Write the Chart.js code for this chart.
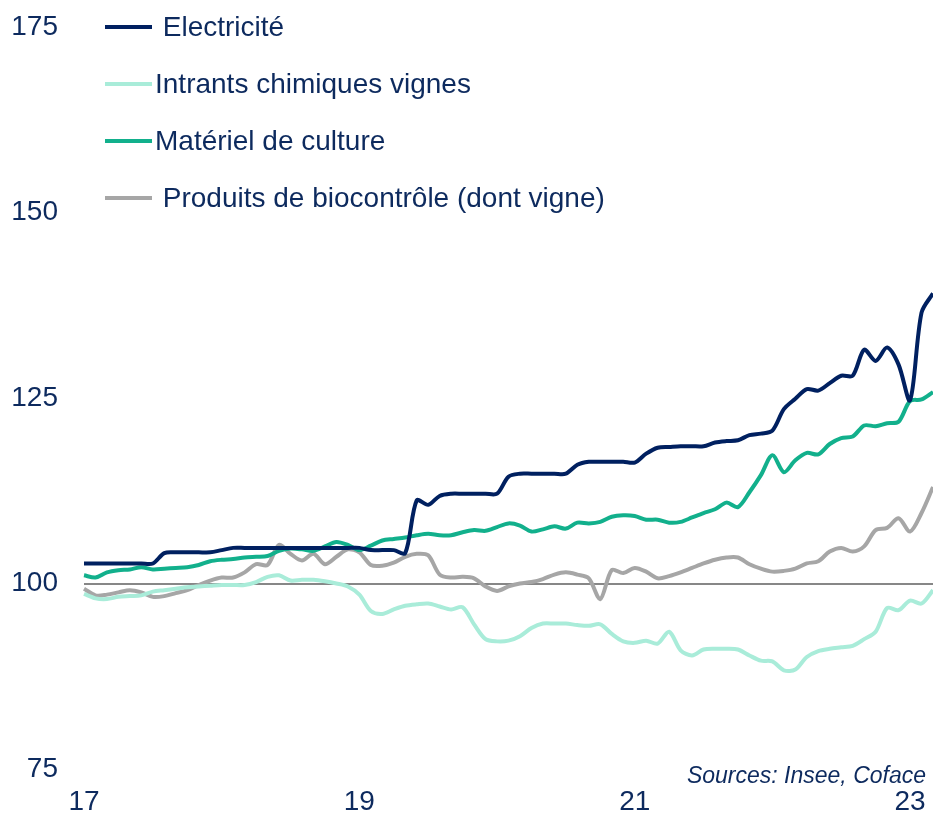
<!DOCTYPE html>
<html>
<head>
<meta charset="utf-8">
<script src="https://cdn.jsdelivr.net/npm/chart.js@4"></script>
<style>
  html, body { margin: 0; padding: 0; background: #fff; }
</style>
</head>
<body>
<canvas id="myChart" width="933" height="819"></canvas>
<script>
// mois de janv. 2017 a mars 2023
const years = ['2017', '2018', '2019', '2020', '2021', '2022', '2023'];
const months = [];
years.forEach(y => {
    for (let m = 1; m <= 12; m++) {
        if (y === '2023' && m > 3) break;
        months.push(y + '-' + (m < 10 ? '0' + m : m));
    }
});
// annees affichees sur l'axe
const tickYears = ['2017', '2019', '2021', '2023'];
const yTicks = [75, 100, 125, 150, 175];

// libelles (les espaces en tete viennent du graphique d'origine)
const labels = [' Electricité', 'Intrants chimiques vignes', 'Matériel de culture', ' Produits de biocontrôle (dont vigne)'];

const electricite = [
    102.7, 102.7, 102.7, 102.7, 102.7, 102.7, 102.7, 104.1, 104.2, 104.2, 104.2, 104.2,
    104.5, 104.8, 104.8, 104.8, 104.8, 104.8, 104.8, 104.8, 104.8, 104.8, 104.8, 104.8,
    104.8, 104.5, 104.5, 104.5, 104.1, 111.2, 110.6, 111.8, 112.1, 112.1, 112.1, 112.1,
    112.1, 114.4, 114.8, 114.8, 114.8, 114.8, 114.8, 116.0, 116.4, 116.4, 116.4, 116.4,
    116.3, 117.5, 118.3, 118.4, 118.5, 118.5, 118.5, 119.0, 119.2, 119.3, 120.0, 120.2,
    120.6, 123.5, 124.9, 126.2, 126.0, 127.0, 128.0, 128.0, 131.5, 130.0, 131.8, 129.5,
    124.7, 136.5, 139.1
];
const intrants = [
    98.6, 98.0, 97.9, 98.2, 98.3, 98.4, 98.9, 99.1, 99.3, 99.5, 99.6, 99.7,
    99.8, 99.8, 99.8, 100.2, 100.9, 101.1, 100.4, 100.5, 100.5, 100.3, 100.0, 99.6,
    98.5, 96.3, 95.9, 96.5, 97.0, 97.2, 97.3, 96.9, 96.5, 96.8, 94.5, 92.5,
    92.2, 92.3, 92.9, 94.0, 94.6, 94.6, 94.6, 94.4, 94.3, 94.5, 93.2, 92.2,
    92.0, 92.3, 91.9, 93.5, 91.0, 90.3, 91.1, 91.2, 91.2, 91.1, 90.3, 89.6,
    89.5, 88.3, 88.4, 90.1, 90.9, 91.2, 91.4, 91.6, 92.5, 93.5, 96.7, 96.4,
    97.7, 97.3, 99.1
];
const materiel = [
    101.1, 100.8, 101.5, 101.8, 101.9, 102.2, 101.9, 102.0, 102.1, 102.2, 102.5, 103.0,
    103.2, 103.3, 103.5, 103.6, 103.7, 104.4, 104.7, 104.6, 104.4, 105.0, 105.6, 105.2,
    104.5, 105.1, 105.8, 106.0, 106.2, 106.5, 106.7, 106.5, 106.5, 106.9, 107.2, 107.1,
    107.6, 108.1, 107.8, 107.0, 107.3, 107.7, 107.4, 108.2, 108.1, 108.3, 109.0, 109.2,
    109.1, 108.6, 108.6, 108.2, 108.3, 108.9, 109.5, 110.0, 110.9, 110.3, 112.3, 114.6,
    117.3, 115.0, 116.6, 117.6, 117.4, 118.8, 119.6, 119.8, 121.3, 121.2, 121.6, 121.8,
    124.6, 124.8, 125.8
];
const biocontrole = [
    99.3, 98.4, 98.5, 98.8, 99.1, 98.8, 98.2, 98.3, 98.7, 99.1, 99.8, 100.4,
    100.8, 100.8, 101.5, 102.6, 102.5, 105.2, 104.0, 103.1, 104.0, 102.6, 103.6, 104.6,
    104.2, 102.5, 102.4, 102.8, 103.6, 104.0, 103.8, 101.2, 100.8, 100.9, 100.7, 99.6,
    99.0, 99.6, 100.0, 100.2, 100.6, 101.2, 101.5, 101.2, 100.7, 97.9, 101.8, 101.4,
    102.1, 101.6, 100.7, 101.0, 101.5, 102.1, 102.7, 103.2, 103.5, 103.5, 102.6, 102.0,
    101.6, 101.7, 102.0, 102.7, 103.0, 104.3, 104.8, 104.3, 105.0, 107.2, 107.5, 108.8,
    107.0, 109.5, 113.0
];

const colors = ['#002060', '#a9ecd9', '#12b08c', '#a6a6a6'];
const textColor = '#0d2a5e';
const fontFamily = '"Liberation Sans", Arial, sans-serif';

// legende + source dessinees dans la zone du graphique
const overlayPlugin = {
    id: 'overlay',
    afterDraw(chart) {
        const ctx = chart.ctx;
        ctx.save();
        ctx.font = '28px ' + fontFamily;
        ctx.textBaseline = 'middle';
        chart.data.datasets.forEach((ds, i) => {
            const y = 27 + i * 57;
            ctx.strokeStyle = ds.borderColor;
            ctx.lineWidth = 4;
            ctx.beginPath();
            ctx.moveTo(105, y);
            ctx.lineTo(152, y);
            ctx.stroke();
            ctx.fillStyle = textColor;
            ctx.fillText(ds.label, 155, y + 1);
        });
        ctx.font = 'italic 23px ' + fontFamily;
        ctx.textAlign = 'right';
        ctx.fillText('Sources: Insee, Coface', 926, 777);
        ctx.restore();
    }
};

const mkDataset = (label, data, color) => ({
    label: label,
    data: data,
    borderColor: color,
    backgroundColor: color,
    borderWidth: 4,
    pointRadius: 0,
    tension: 0.3,
    fill: false
});

const myChart = new Chart(document.getElementById('myChart'), {
    type: 'line',
    data: {
        labels: months,
        datasets: [
            mkDataset(labels[0], electricite, colors[0]),
            mkDataset(labels[1], intrants, colors[1]),
            mkDataset(labels[2], materiel, colors[2]),
            mkDataset(labels[3], biocontrole, colors[3])
        ]
    },
    options: {
        responsive: false,
        animation: false,
        devicePixelRatio: 1,
        layout: { padding: { top: 27, right: 0, left: 0, bottom: 0 } },
        plugins: {
            legend: { display: false },
            tooltip: { enabled: false }
        },
        scales: {
            x: {
                offset: false,
                afterFit: (scale) => {
                    scale.height = 50;
                    scale.paddingLeft = 0;
                    scale.paddingRight = 0;
                },
                grid: { display: false, drawTicks: false },
                border: { display: false },
                ticks: {
                    autoSkip: false,
                    maxRotation: 0,
                    padding: 16,
                    color: textColor,
                    font: { family: fontFamily, size: 28 },
                    callback: function (value) {
                        const lab = this.getLabelForValue(value);
                        const y = lab.slice(0, 4);
                        return (lab.endsWith('-01') && tickYears.includes(y)) ? y.slice(2) : '';
                    }
                }
            },
            y: {
                min: 75,
                max: 175,
                afterBuildTicks: (scale) => {
                    scale.ticks = yTicks.map(v => ({ value: v }));
                },
                afterFit: (scale) => {
                    scale.width = 84;
                    scale.paddingTop = 0;
                    scale.paddingBottom = 0;
                },
                grid: {
                    drawTicks: false,
                    lineWidth: 2,
                    color: (c) => (c.tick && c.tick.value === 100) ? '#878787' : 'rgba(0,0,0,0)'
                },
                border: { display: false },
                ticks: {
                    padding: 26,
                    color: textColor,
                    font: { family: fontFamily, size: 28 }
                }
            }
        }
    },
    plugins: [overlayPlugin]
});
</script>
</body>
</html>
